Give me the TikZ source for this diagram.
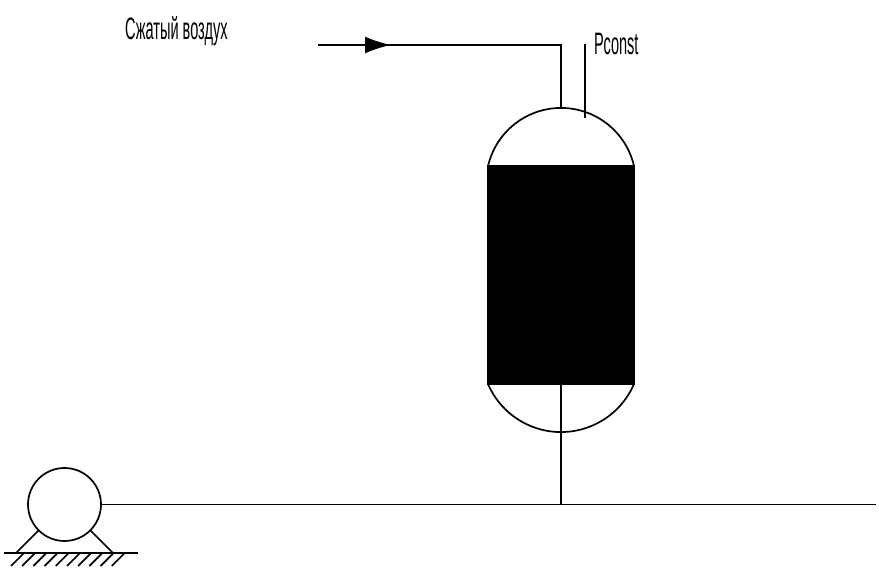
\documentclass[tikz,border=0pt]{standalone}
\usepackage{fontspec}
\newfontfamily\narrowfont[FakeStretch=0.47]{Liberation Sans}
\usepackage{tikz}
\usetikzlibrary{arrows.meta}

\begin{document}
\begin{tikzpicture}[x=1pt,y=1pt,line width=1.7pt,
  l/.style={font=\narrowfont\fontsize{31}{31}\selectfont,inner sep=0pt,outer sep=0pt,anchor=base west},
  t/.style={rectangle,draw,fill=black,outer sep=0pt,minimum width=146pt,minimum height=218pt},
  p/.style={circle,draw,outer sep=0pt,minimum size=73pt}]
  \useasboundingbox (0,0) rectangle (879,569);

  \node[t] (tank) at (561,294) {};
  \node[p] (pump) at (64.5,64.5) {};
  \node[l] (air) at (125,529) {Сжатый воздух};
  \node[l] (pc) at (594,514) {Pconst};

  \coordinate (as) at (318,524);
  \coordinate (at) at (391,524);
  \coordinate (am) at (380,524);
  \coordinate (ac) at (561,524);
  \coordinate (ae) at (561,462);
  \coordinate (ps) at (585,525);
  \coordinate (pe) at (585,451);
  \coordinate (me) at (876,64.5);
  \coordinate (fl) at (16,16);
  \coordinate (fr) at (113,16);
  \coordinate (gl) at (4,16);
  \coordinate (gr) at (138,16);

  \draw (tank.north east) arc[start angle=13,end angle=167,radius=74.9];
  \draw (tank.south east) arc[start angle=-23.3,end angle=-156.7,radius=79.5];

  \draw[-{Latex[length=26pt,width=17pt]}] (as) -- (at);
  \draw (am) -- (ac) -- (ae);
  \draw (ps) -- (pe);

  \draw (pump.east) -- (me);
  \draw (tank.south) -- (tank.south |- me);
  \draw (pump.225) -- (fl);
  \draw (pump.315) -- (fr);
  \draw (gl) -- (gr);
  \foreach \i in {0,...,9}
    \draw (24+11.2*\i,16) -- (11+11.2*\i,3);
\end{tikzpicture}
\end{document}
